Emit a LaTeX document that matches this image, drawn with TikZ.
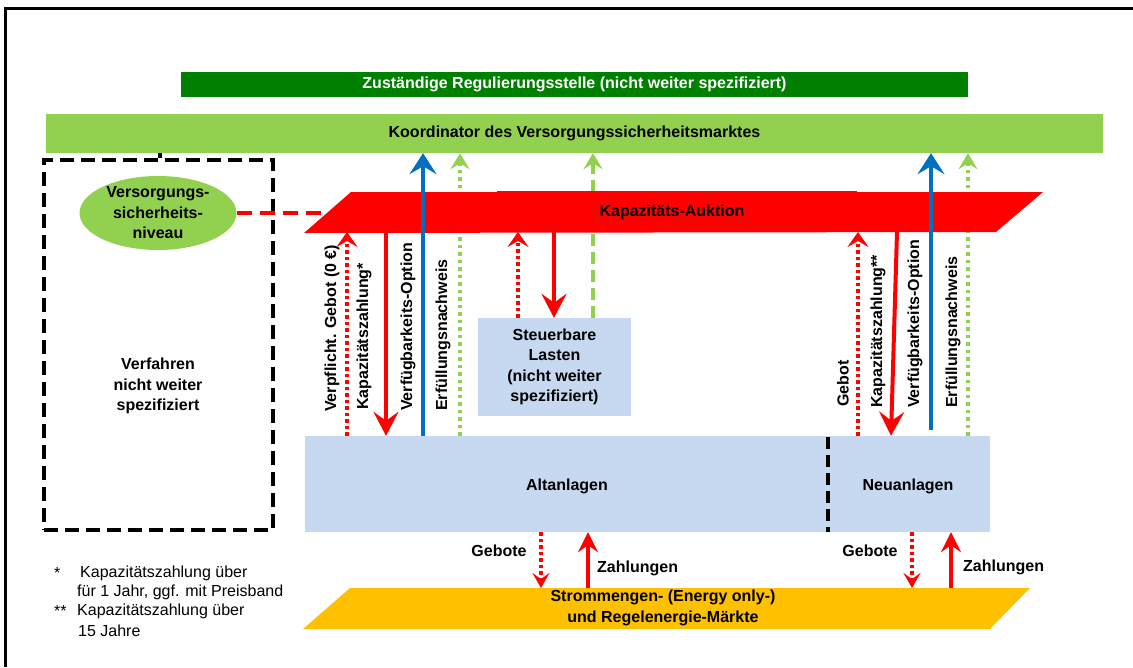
\documentclass[tikz,border=0pt]{standalone}
\usepackage{fontspec}
\setmainfont{Liberation Sans}
\usetikzlibrary{arrows.meta,shapes.geometric,calc}
\definecolor{kred}{HTML}{FF0000}
\definecolor{lgreen}{HTML}{92D050}
\definecolor{dgreen}{HTML}{008000}
\definecolor{kblue}{HTML}{0070C0}
\definecolor{lblue}{HTML}{C6D9F1}
\definecolor{kyellow}{HTML}{FFC000}
\begin{document}
\begin{tikzpicture}[x=1pt,y=-1pt,
  lab/.style={font=\bfseries\fontsize{16}{20.5}\selectfont, align=center, inner sep=0pt},
  vlab/.style={lab, rotate=90, anchor=west},
  fn/.style={font=\fontsize{16}{20}\selectfont, anchor=west, inner sep=0pt},
  barbox/.style={lab, minimum width=#1, inner sep=0pt},
  solidred/.style={draw=kred, line width=4pt, -{Stealth[length=24pt,width=25pt,inset=9pt]}},
  solidredsm/.style={draw=kred, line width=4pt, -{Stealth[length=20pt,width=20pt,inset=7pt]}},
  dotred/.style={draw=kred, line width=3.5pt, dash pattern=on 3.5pt off 3pt, -{Stealth[length=15pt,width=21pt,inset=6pt]}},
  dotredsm/.style={draw=kred, line width=3.5pt, dash pattern=on 3.5pt off 3pt, -{Stealth[length=15pt,width=17pt,inset=6pt]}},
  dotgreen/.style={draw=lgreen, line width=3.5pt, dash pattern=on 3.5pt off 4pt, -{Stealth[length=16pt,width=19pt,inset=6pt]}},
  dashgreen/.style={draw=lgreen, line width=4pt, dash pattern=on 12pt off 6pt, -{Stealth[length=16pt,width=19pt,inset=6pt]}},
  bluearr/.style={draw=kblue, line width=4.5pt, -{Stealth[length=21pt,width=27pt,inset=8pt]}},
  dashred/.style={draw=kred, line width=3.5pt, dash pattern=on 15pt off 8pt},
]
\useasboundingbox (0,0) rectangle (1133,667);
% frame
\draw[line width=3pt] (5.5,667) -- (5.5,8.5) -- (1133,8.5);

% top bars
\node[lab, fill=dgreen, text=white, minimum width=787pt, minimum height=25pt] (reg) at (574.5,84.5) {Zuständige Regulierungsstelle (nicht weiter spezifiziert)};
\node[lab, fill=lgreen, minimum width=1057pt, minimum height=39pt] (ko) at (574.5,133.5) {Koordinator des Versorgungssicherheitsmarktes};

% left dashed box
\node[draw, line width=3.5pt, dash pattern=on 14pt off 7pt, minimum width=229pt, minimum height=370pt, inner sep=0pt] (verf) at (158.5,345) {};
\node[lab] (verftext) at (158,386) {Verfahren\\nicht weiter\\spezifiziert};
\draw[line width=4pt] (160,0 |- ko.south) -- (160,0 |- verf.north);
\node[lab, ellipse, fill=lgreen, minimum width=157pt, minimum height=74pt] (ell) at (158,213) {Versorgungs-\\sicherheits-\\niveau};

% boxes
\node[fill=lblue, minimum width=685pt, minimum height=96pt, inner sep=0pt] (alt) at (647.5,484) {};
\node[lab] (alttext) at (567,486) {Altanlagen};
\node[lab] (neutext) at (908,486) {Neuanlagen};
\coordinate (divT) at (828,437);
\coordinate (divB) at (828,532);
\draw[line width=4pt, dash pattern=on 12pt off 6pt] (divT) -- (divB);
\node[lab, fill=lblue, minimum width=153pt, minimum height=98pt] (steu) at (554.5,367) {Steuerbare\\Lasten\\(nicht weiter\\spezifiziert)};

% green arrows (under the auction)
\draw[dotgreen] (460,0 |- alt.north) -- (460,0 |- ko.south);
\draw[dotgreen] (968,0 |- alt.north) -- (968,0 |- ko.south);
\draw[dashgreen] (593,0 |- steu.north) -- (593,0 |- ko.south);

% auction
\fill[kred] (304,233) -- (351,192) -- (1043,192) -- (996,232) -- cycle;
\fill[kred] (497,190.5) rectangle (857,232);
\node[lab] (auk) at (672,212) {Kapazitäts-Auktion};
\coordinate (aukB) at (0,232);
\coordinate (aukL) at (327,213);
\draw[dashred] (ell.east) -- (aukL);

% blue arrows
\coordinate (b2s) at (931,430);
\draw[bluearr] (423,0 |- alt.north) -- (423,0 |- ko.south);
\draw[bluearr] (b2s) -- (931,0 |- ko.south);

% red arrows
\draw[dotred] (347,0 |- alt.north) -- (347,0 |- aukB);
\draw[solidred] (386,0 |- aukB) -- (386,0 |- alt.north);
\draw[dotred] (518,0 |- steu.north) -- (518,0 |- aukB);
\draw[solidred] (554,0 |- aukB) -- (554,0 |- steu.north);
\draw[dotred] (858,0 |- alt.north) -- (858,0 |- aukB);
\draw[solidred] (897,0 |- aukB) -- (891,0 |- alt.north);

% vertical labels
\node[vlab] (l1) at (332,412) {Verpflicht. Gebot (0 €)};
\node[vlab] (l2) at (364,410) {Kapazitätszahlung*};
\node[vlab] (l3) at (408,411) {Verfügbarkeits-Option};
\node[vlab] (l4) at (443,411) {Erfüllungsnachweis};
\node[vlab] (r1) at (843,407) {Gebot};
\node[vlab] (r2) at (878,408) {Kapazitätszahlung**};
\node[vlab] (r3) at (915,408) {Verfügbarkeits-Option};
\node[vlab] (r4) at (953,408) {Erfüllungsnachweis};

% market
\fill[kyellow] (303,629) -- (350,588) -- (1030,588) -- (990,629) -- cycle;
\node[lab] (markt) at (663,608) {Strommengen- (Energy only-)\\und Regelenergie-Märkte};
\coordinate (mT) at (0,588);
\draw[dotredsm] (541,0 |- alt.south) -- (541,0 |- mT);
\draw[solidredsm] (588,0 |- mT) -- (588,0 |- alt.south);
\draw[dotredsm] (912,0 |- alt.south) -- (912,0 |- mT);
\draw[solidredsm] (951,0 |- mT) -- (951,0 |- alt.south);
\node[lab] (g1) at (499,551) {Gebote};
\node[lab, anchor=west] (z1) at (597,568) {Zahlungen};
\node[lab] (g2) at (870,551) {Gebote};
\node[lab, anchor=west] (z2) at (963,567) {Zahlungen};

% footnotes
\node[fn] (f1a) at (54,573) {*};
\node[fn] (f1b) at (80,573) {Kapazitätszahlung über};
\node[fn] (f1c) at (77,592) {für 1 Jahr, ggf. mit Preisband};
\node[fn] (f2a) at (54,611) {**};
\node[fn] (f2b) at (77,611) {Kapazitätszahlung über};
\node[fn] (f2c) at (78,631) {15 Jahre};
\end{tikzpicture}
\end{document}
